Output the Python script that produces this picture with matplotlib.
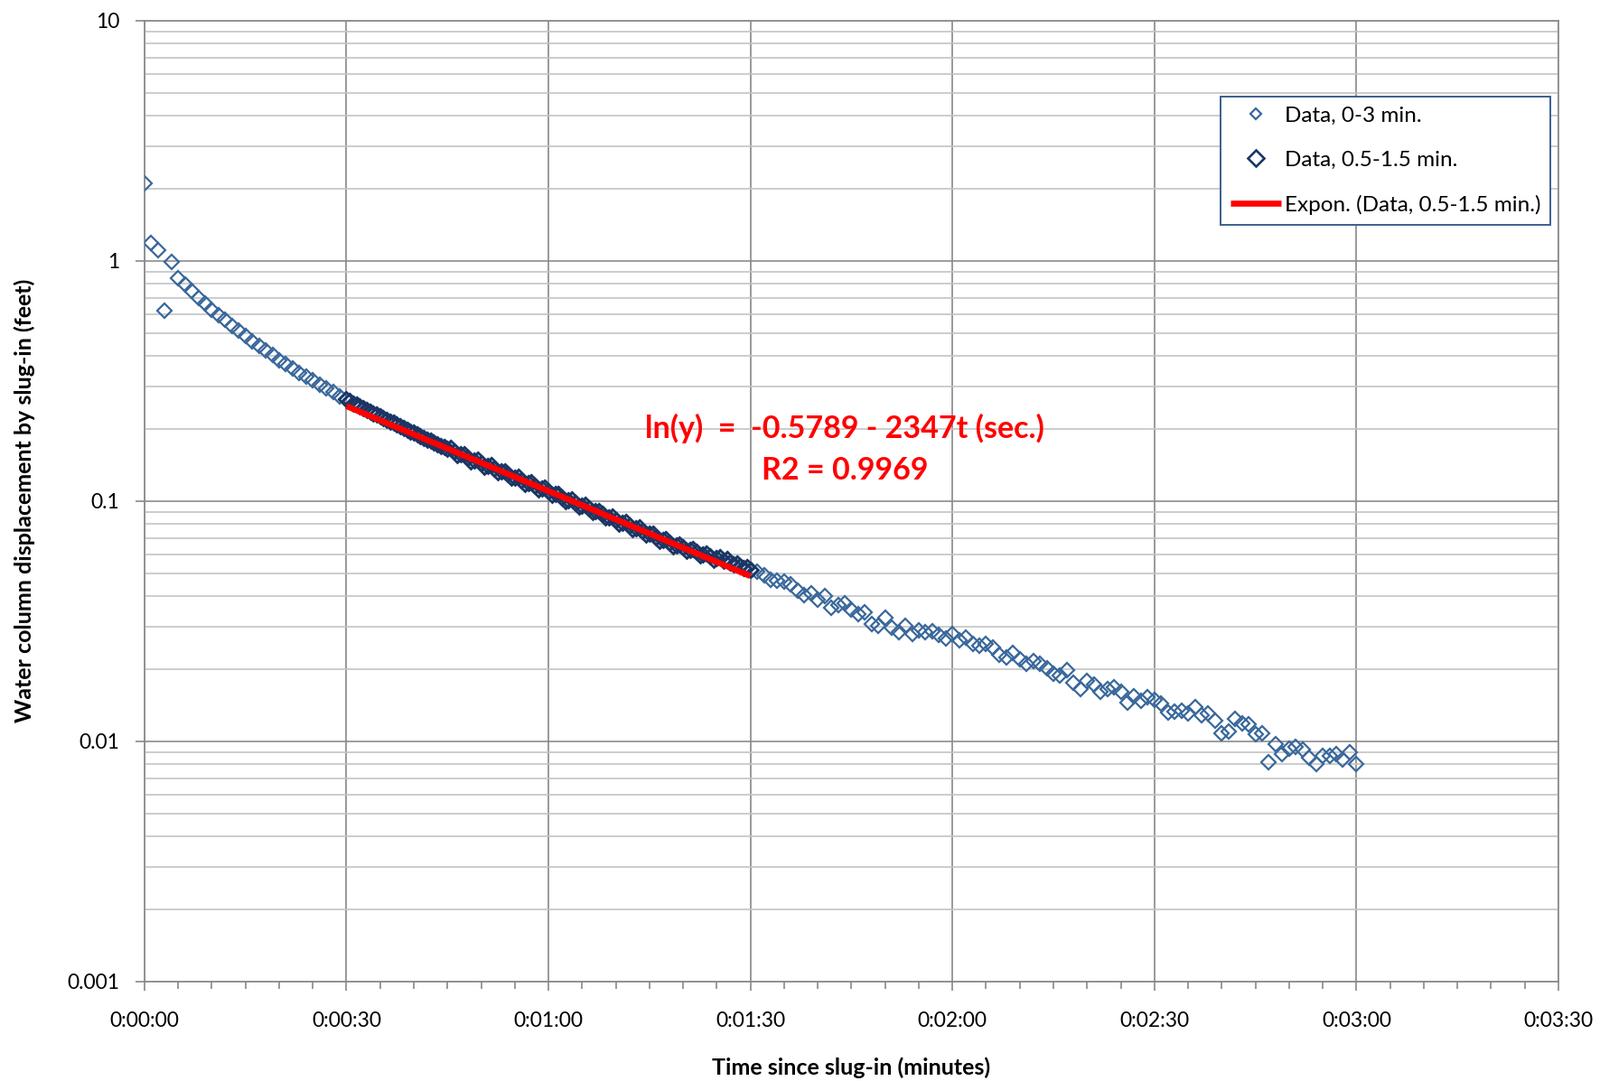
import numpy as np
import matplotlib
matplotlib.use("Agg")
import matplotlib.pyplot as plt
from matplotlib.ticker import FuncFormatter, MultipleLocator, LogLocator

# DATA ---------------------------------------------------------------------------------------------
# slug test, water column displacement (feet) against time since slug-in (seconds)
early_t = np.arange(0, 30, 1)
early_y = [2.09, 1.19, 1.105, 0.618, 0.99, 0.849, 0.794, 0.749, 0.697, 0.662,
           0.625, 0.595, 0.567, 0.535, 0.511, 0.486, 0.463, 0.442, 0.422, 0.404,
           0.386, 0.370, 0.356, 0.342, 0.330, 0.317, 0.304, 0.294, 0.283, 0.272]

# 0.5-1.5 min subset (sampled every half second)
mid_t = np.arange(30, 90.5, 0.5)
mid_y = [0.2656, 0.2595, 0.2547, 0.2507, 0.2466, 0.2425, 0.2388, 0.2350, 0.2312, 0.2280,
         0.2245, 0.2211, 0.2178, 0.2144, 0.2109, 0.2076, 0.2042, 0.2010, 0.1977, 0.1946,
         0.1918, 0.1888, 0.1858, 0.1830, 0.1803, 0.1775, 0.1747, 0.1722, 0.1697, 0.1670,
         0.1644, 0.1654, 0.1600, 0.1547, 0.1558, 0.1567, 0.1515, 0.1465, 0.1475, 0.1484,
         0.1435, 0.1387, 0.1397, 0.1406, 0.1359, 0.1314, 0.1323, 0.1331, 0.1288, 0.1245,
         0.1253, 0.1261, 0.1219, 0.1178, 0.1186, 0.1194, 0.1155, 0.1117, 0.1124, 0.1131,
         0.1094, 0.1058, 0.1065, 0.1071, 0.1036, 0.1001, 0.1009, 0.1014, 0.0981, 0.0949,
         0.0955, 0.0961, 0.0930, 0.0898, 0.0904, 0.0910, 0.0880, 0.0851, 0.0856, 0.0862,
         0.0834, 0.0806, 0.0811, 0.0816, 0.0790, 0.0763, 0.0768, 0.0773, 0.0747, 0.0723,
         0.0728, 0.0732, 0.0708, 0.0684, 0.0689, 0.0693, 0.0670, 0.0649, 0.0652, 0.0657,
         0.0639, 0.0618, 0.0624, 0.0630, 0.0612, 0.0593, 0.0599, 0.0605, 0.0588, 0.0570,
         0.0576, 0.0581, 0.0564, 0.0574, 0.0551, 0.0545, 0.0550, 0.0533, 0.0527, 0.0532,
         0.0515]

late_t = np.arange(91, 181, 1)
late_y = [0.0506, 0.0492, 0.0471, 0.0467, 0.0462, 0.0449, 0.0423, 0.0404, 0.0414, 0.0388,
          0.0402, 0.0358, 0.0369, 0.0374, 0.0353, 0.0338, 0.0343, 0.0308, 0.0303, 0.0327,
          0.0297, 0.0284, 0.0303, 0.0280, 0.0289, 0.0283, 0.0286, 0.0276, 0.0268, 0.0280,
          0.0262, 0.0270, 0.0254, 0.0250, 0.0254, 0.0246, 0.0229, 0.0223, 0.0233, 0.0219,
          0.0210, 0.0216, 0.0210, 0.0201, 0.0190, 0.0187, 0.0197, 0.0175, 0.0165, 0.0178,
          0.0172, 0.0160, 0.0165, 0.0168, 0.0161, 0.0145, 0.0154, 0.0147, 0.0153, 0.0149,
          0.0143, 0.0131, 0.0133, 0.0134, 0.0130, 0.0138, 0.0128, 0.0130, 0.0122, 0.0108,
          0.0110, 0.0124, 0.0119, 0.0117, 0.0107, 0.0108, 0.0082, 0.0097, 0.0088, 0.0093,
          0.0095, 0.0092, 0.0085, 0.0080, 0.0087, 0.0087, 0.0088, 0.0084, 0.0090, 0.0080]

# exponential trendline as printed on the chart: ln(y) = a + b*t, t in days (Excel time)
fit_a = -0.5789
fit_b = -2347.0
fit_range = (30, 90)

# --------------------------------------------------------------------------------------------------

all_t = np.concatenate([early_t, mid_t, late_t])
all_y = np.concatenate([early_y, mid_y, late_y])

fit_t = np.linspace(fit_range[0], fit_range[1], 50)
fit_y = np.exp(fit_a + fit_b * fit_t / 86400.0)

plt.rcParams['font.family'] = ['Lato', 'DejaVu Sans']

fig = plt.figure(figsize=(17.71, 11.97), dpi=100)
ax = fig.add_axes([0.0903, 0.0922, 0.8837, 0.8889])

light = '#3a689c'
dark = '#1b3664'
grey = '#878787'

ax.plot(all_t, all_y, linestyle='none', marker='D', ms=8.5, mfc='none', mec=light, mew=1.6,
        label='Data, 0-3 min.', zorder=3)
ax.plot(mid_t, mid_y, linestyle='none', marker='D', ms=8.5, mfc='none', mec=dark, mew=1.9,
        label='Data, 0.5-1.5 min.', zorder=4)
ax.plot(fit_t, fit_y, color='#ff0000', lw=4.8, solid_capstyle='butt',
        label='Expon. (Data, 0.5-1.5 min.)', zorder=5)

ax.set_yscale('log')
ax.set_xlim(0, 210)
ax.set_ylim(0.001, 10)

ax.xaxis.set_major_locator(MultipleLocator(30))
ax.xaxis.set_minor_locator(MultipleLocator(5))
ax.xaxis.set_major_formatter(FuncFormatter(
    lambda s, pos: '%d:%02d:%02d' % (int(s) // 3600, (int(s) % 3600) // 60, int(s) % 60)))
ax.yaxis.set_major_locator(LogLocator(base=10))
ax.yaxis.set_minor_locator(LogLocator(base=10, subs=np.arange(2, 10)))
ax.yaxis.set_major_formatter(FuncFormatter(lambda v, pos: '%g' % v))
ax.yaxis.set_minor_formatter(FuncFormatter(lambda v, pos: ''))

ax.set_axisbelow(True)
ax.grid(True, which='major', axis='x', color=grey, lw=1.2)
ax.grid(True, which='major', axis='y', color='#8c8c8c', lw=1.2)
ax.grid(True, which='minor', axis='y', color='#c3c3c3', lw=1.2)

for sp in ax.spines.values():
    sp.set_color(grey)
    sp.set_linewidth(1.2)

ax.tick_params(axis='x', which='major', direction='out', length=7, width=1.2, color=grey,
               pad=17, labelsize=16.5)
ax.tick_params(axis='x', which='minor', direction='out', length=6, width=1.2, color=grey)
ax.tick_params(axis='y', which='major', direction='out', length=7, width=1.2, color=grey,
               pad=13, labelsize=16.5)
ax.tick_params(axis='y', which='minor', length=0)

ax.set_xlabel('Time since slug-in (minutes)', fontsize=18, fontweight='bold')
ax.set_ylabel('Water column displacement by slug-in (feet)', fontsize=18, fontweight='bold')
ax.xaxis.set_label_coords(0.5, -0.079)
ax.yaxis.set_label_coords(-0.077, 0.5)

ax.text(104, 0.201, 'ln(y)  =  -0.5789 - 2347t (sec.)', color='#ff0000', fontsize=24.5,
        fontweight='bold', ha='center', va='center')
ax.text(104, 0.134, 'R2 = 0.9969', color='#ff0000', fontsize=24.5,
        fontweight='bold', ha='center', va='center')

leg = ax.legend(loc='upper right', bbox_to_anchor=(0.969, 0.9106), bbox_transform=fig.transFigure,
                fontsize=17.5, frameon=True, fancybox=False, framealpha=1, edgecolor='#3a5f8f',
                handlelength=2.3, handletextpad=0.15, labelspacing=1.15, borderpad=0.45,
                borderaxespad=0)
leg.get_frame().set_linewidth(1.4)
leg.legend_handles[0].set_markersize(6.5)
leg.legend_handles[1].set_markersize(9)

fig.savefig('out.png', dpi=100)
